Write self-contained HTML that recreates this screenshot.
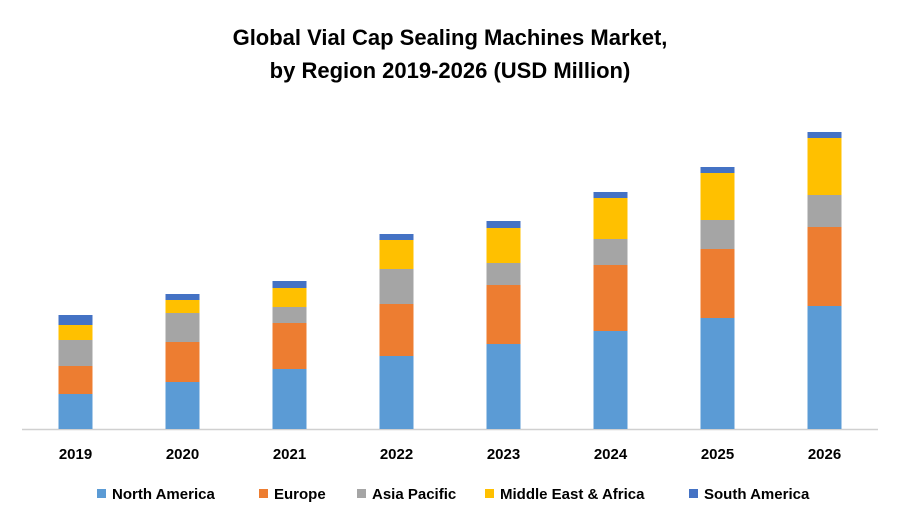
<!DOCTYPE html>
<html><head><meta charset="utf-8"><style>
body{margin:0;background:#fff;}
svg{display:block;font-family:"Liberation Sans",sans-serif;}
</style></head><body>
<svg width="900" height="525" id="chart">
<text x="450" y="45" text-anchor="middle" font-size="22" font-weight="bold" fill="#000">Global Vial Cap Sealing Machines Market,</text>
<text x="450" y="78" text-anchor="middle" font-size="22" font-weight="bold" fill="#000">by Region 2019-2026 (USD Million)</text>
<line x1="22" y1="429.5" x2="878" y2="429.5" stroke="#d0d0d0" stroke-width="1.5"/>
<g id="bars"></g>
<g id="xlabels"></g>
<g id="legend"></g>
</svg>
<script>
const years = ["2019","2020","2021","2022","2023","2024","2025","2026"];
const seriesNames = ["North America","Europe","Asia Pacific","Middle East & Africa","South America"];
const northAmerica = [35,47,60,73,85,98,111,123];
const europe = [28,40,46,52,59,66,69,79];
const asiaPacific = [26,29,16,35,22,26,29,32];
const mea = [15,13,19,29,35,41,47,57];
const southAmerica = [10,6,7,6,7,6,6,6];
const colors = ["#5b9bd5","#ed7d31","#a5a5a5","#ffc000","#4472c4"];
const series = [northAmerica, europe, asiaPacific, mea, southAmerica];
const ns = "http://www.w3.org/2000/svg";
const plotL = 22, plotR = 878, baseY = 429, barW = 34;
const band = (plotR - plotL) / years.length;
function xScale(i){ return plotL + band * (i + 0.5); }
function yScale(v){ return baseY - v; }
const bars = document.getElementById('bars');
years.forEach((yr, i) => {
  let cum = 0;
  series.forEach((s, k) => {
    const r = document.createElementNS(ns, 'rect');
    const y0 = yScale(cum), y1 = yScale(cum + s[i]);
    r.setAttribute('x', xScale(i) - barW / 2);
    r.setAttribute('y', y1);
    r.setAttribute('width', barW);
    r.setAttribute('height', y0 - y1);
    r.setAttribute('fill', colors[k]);
    
    
    bars.appendChild(r);
    cum += s[i];
  });
  const t = document.createElementNS(ns, 'text');
  t.setAttribute('x', xScale(i));
  t.setAttribute('y', 459);
  t.setAttribute('text-anchor', 'middle');
  t.setAttribute('font-size', '15');
  t.setAttribute('font-weight', 'bold');
  t.textContent = yr;
  
  
  document.getElementById('xlabels').appendChild(t);
});
const legendX = [97, 259, 357, 485, 689];
const leg = document.getElementById('legend');
seriesNames.forEach((n, k) => {
  const g = document.createElementNS(ns, 'g');
  
  
  const m = document.createElementNS(ns, 'rect');
  m.setAttribute('x', legendX[k]); m.setAttribute('y', 489);
  m.setAttribute('width', 9); m.setAttribute('height', 9);
  m.setAttribute('fill', colors[k]);
  const t = document.createElementNS(ns, 'text');
  t.setAttribute('x', legendX[k] + 15); t.setAttribute('y', 499);
  t.setAttribute('font-size', '15'); t.setAttribute('font-weight', 'bold');
  t.textContent = n;
  g.appendChild(m); g.appendChild(t); leg.appendChild(g);
});
</script>
</body></html>
